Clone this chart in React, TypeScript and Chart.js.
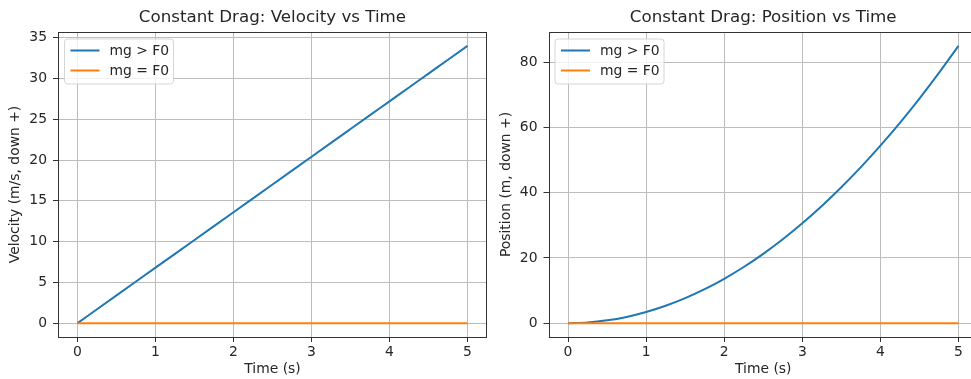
import React, { useEffect, useRef } from "react";
import { Chart, registerables } from "chart.js";

Chart.register(...registerables);

const timeS = [0, 0.25, 0.5, 0.75, 1, 1.25, 1.5, 1.75, 2, 2.25, 2.5, 2.75, 3, 3.25, 3.5, 3.75, 4, 4.25, 4.5, 4.75, 5];
const velocityHeavy = [0, 1.7, 3.4, 5.1, 6.8, 8.5, 10.2, 11.9, 13.6, 15.3, 17.0, 18.7, 20.4, 22.1, 23.8, 25.5, 27.2, 28.9, 30.6, 32.3, 34.0];
const velocityEqual = [0, 0, 0, 0, 0, 0, 0, 0, 0, 0, 0, 0, 0, 0, 0, 0, 0, 0, 0, 0, 0];
const positionHeavy = [0, 0.21, 0.85, 1.91, 3.4, 5.31, 7.65, 10.41, 13.6, 17.21, 21.25, 25.71, 30.6, 35.91, 41.65, 47.81, 54.4, 61.41, 68.85, 76.71, 85.0];
const positionEqual = [0, 0, 0, 0, 0, 0, 0, 0, 0, 0, 0, 0, 0, 0, 0, 0, 0, 0, 0, 0, 0];
const seriesLabels = ["mg > F0", "mg = F0"];
const xTicks = [0, 1, 2, 3, 4, 5];

const FONT = "'DejaVu Sans', sans-serif";
const TEXT = "#262626";
const BLUE = "#1f77b4";
const ORANGE = "#ff7f0e";
const FS = 13.9;
const TITLE_FS = 16.7;

type Cfg = {
  title: string;
  yLabel: string;
  a: number[];
  b: number[];
  yMin: number;
  yMax: number;
  yStep: number;
  yWidth: number;
  padRight: number;
  yTitlePad: number;
};

function makeChart(canvas: HTMLCanvasElement, c: Cfg) {
  const toPts = (arr: number[]) => arr.map((y, i) => ({ x: timeS[i], y }));
  const framePlugin = {
    id: "frameLegendTitle",
    afterDraw(chart: any) {
      const ctx = chart.ctx as CanvasRenderingContext2D;
      const a = chart.chartArea;
      ctx.save();
      // frame
      ctx.strokeStyle = "#333333";
      ctx.lineWidth = 1;
      ctx.strokeRect(Math.round(a.left) + 0.5, Math.round(a.top) + 0.5, Math.round(a.right - a.left) - 1, Math.round(a.bottom - a.top));
      // title
      ctx.fillStyle = TEXT;
      ctx.font = `${TITLE_FS}px ${FONT}`;
      ctx.textAlign = "center";
      ctx.textBaseline = "middle";
      ctx.fillText(c.title, (a.left + a.right) / 2, 17.5);
      // legend
      const bx = a.left + 6.5;
      const by = a.top + 7;
      const bw = 109;
      const bh = 45;
      const r = 3;
      ctx.beginPath();
      ctx.moveTo(bx + r, by);
      ctx.lineTo(bx + bw - r, by);
      ctx.quadraticCurveTo(bx + bw, by, bx + bw, by + r);
      ctx.lineTo(bx + bw, by + bh - r);
      ctx.quadraticCurveTo(bx + bw, by + bh, bx + bw - r, by + bh);
      ctx.lineTo(bx + r, by + bh);
      ctx.quadraticCurveTo(bx, by + bh, bx, by + bh - r);
      ctx.lineTo(bx, by + r);
      ctx.quadraticCurveTo(bx, by, bx + r, by);
      ctx.closePath();
      ctx.fillStyle = "rgba(255,255,255,0.8)";
      ctx.fill();
      ctx.strokeStyle = "#d6d6d6";
      ctx.lineWidth = 1;
      ctx.stroke();
      const colors = [BLUE, ORANGE];
      const rows = [11.5, 31.5];
      seriesLabels.forEach((lab, i) => {
        const y = by + rows[i];
        ctx.strokeStyle = colors[i];
        ctx.lineWidth = 2;
        ctx.beginPath();
        ctx.moveTo(bx + 6, y);
        ctx.lineTo(bx + 35, y);
        ctx.stroke();
        ctx.fillStyle = TEXT;
        ctx.font = `${FS}px ${FONT}`;
        ctx.textAlign = "left";
        ctx.textBaseline = "middle";
        ctx.fillText(lab, bx + 45, y + 0.5);
      });
      ctx.restore();
    },
  };

  return new Chart(canvas, {
    type: "line",
    data: {
      datasets: [
        { label: seriesLabels[0], data: toPts(c.a), borderColor: BLUE, borderWidth: 2, pointRadius: 0, order: 1, cubicInterpolationMode: "monotone" },
        { label: seriesLabels[1], data: toPts(c.b), borderColor: ORANGE, borderWidth: 2, pointRadius: 0, order: 0 },
      ],
    },
    options: {
      animation: false,
      responsive: false,
      events: [],
      layout: { padding: { top: 32, right: c.padRight, left: 0, bottom: 0 } },
      plugins: { legend: { display: false }, tooltip: { enabled: false }, title: { display: false } },
      scales: {
        x: {
          type: "linear",
          min: -0.25,
          max: 5.25,
          afterFit: (s: any) => { s.height = 42; },
          afterBuildTicks: (s: any) => { s.ticks = xTicks.map((v) => ({ value: v })); },
          ticks: { font: { family: FONT, size: FS }, color: TEXT, padding: 2, maxRotation: 0, includeBounds: false },
          grid: { color: "#bcbcbc", lineWidth: 1, drawTicks: true, tickLength: 5, tickColor: "#333333", tickWidth: 1 },
          border: { display: false },
          title: { display: true, text: "Time (s)", font: { family: FONT, size: FS }, color: TEXT, padding: { top: 0, bottom: 1 } },
        },
        y: {
          type: "linear",
          min: c.yMin,
          max: c.yMax,
          afterFit: (s: any) => { s.width = c.yWidth; },
          ticks: { stepSize: c.yStep, font: { family: FONT, size: FS }, color: TEXT, padding: 6, includeBounds: false },
          grid: { color: "#bcbcbc", lineWidth: 1, drawTicks: true, tickLength: 5, tickColor: "#333333", tickWidth: 1 },
          border: { display: false },
          title: { display: true, text: c.yLabel, font: { family: FONT, size: FS }, color: TEXT, padding: { top: c.yTitlePad, bottom: 0 } },
        },
      },
    },
    plugins: [framePlugin],
  } as any);
}

export default function App() {
  const leftRef = useRef<HTMLCanvasElement>(null);
  const rightRef = useRef<HTMLCanvasElement>(null);

  useEffect(() => {
    document.body.style.margin = "0";
    document.body.style.overflow = "hidden";
    const c1 = makeChart(leftRef.current!, {
      title: "Constant Drag: Velocity vs Time",
      yLabel: "Velocity (m/s, down +)",
      a: velocityHeavy,
      b: velocityEqual,
      yMin: -1.7,
      yMax: 35.7,
      yStep: 5,
      yWidth: 58,
      padRight: 3,
      yTitlePad: 6.7,
    });
    const c2 = makeChart(rightRef.current!, {
      title: "Constant Drag: Position vs Time",
      yLabel: "Position (m, down +)",
      a: positionHeavy,
      b: positionEqual,
      yMin: -4.25,
      yMax: 89.25,
      yStep: 20,
      yWidth: 58.5,
      padRight: 3,
      yTitlePad: 8.4,
    });
    return () => {
      c1.destroy();
      c2.destroy();
    };
  }, []);

  return (
    <div style={{ position: "fixed", left: 0, top: 0, width: 971, height: 379, background: "#fff", overflow: "hidden" }}>
      <canvas ref={leftRef} width={490} height={379} style={{ position: "absolute", left: 0, top: 0, width: 490, height: 379 }} />
      <canvas ref={rightRef} width={491} height={379} style={{ position: "absolute", left: 490, top: 0, width: 491, height: 379 }} />
    </div>
  );
}
